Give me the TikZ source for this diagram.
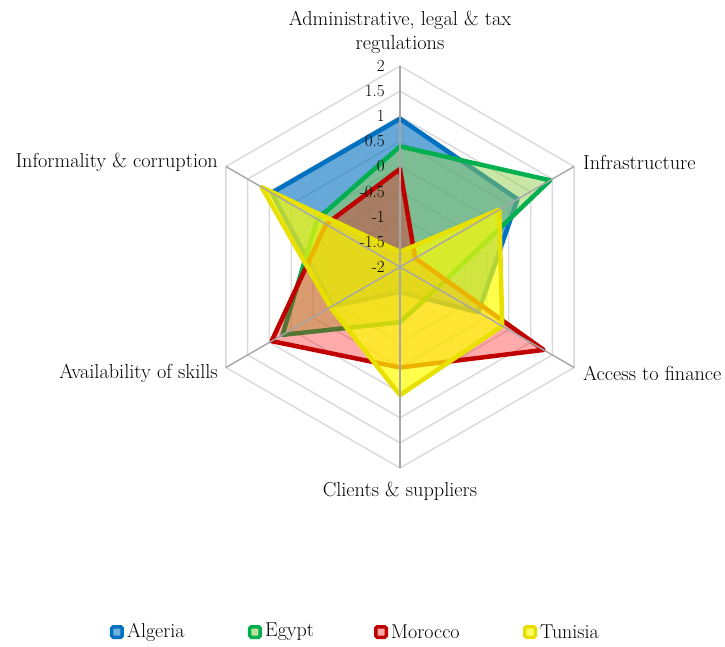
\documentclass[tikz,border=0pt]{standalone}
\usepackage{tikz}
\usetikzlibrary{positioning}
\definecolor{algeria}{HTML}{0070C0}
\definecolor{egypt}{HTML}{00B050}
\definecolor{egyptfill}{HTML}{92D050}
\definecolor{morocco}{HTML}{C00000}
\definecolor{moroccofill}{HTML}{FF0000}
\definecolor{tunisia}{HTML}{E8E000}
\definecolor{tunisiafill}{HTML}{FFFF00}
\definecolor{ringgray}{HTML}{D9D9D9}
\definecolor{spokegray}{HTML}{A6A6A6}

\newcommand{\radarpoints}[1]{%
  \foreach \v [count=\i] in {#1}
    \coordinate (p\i) at ({150-60*\i}:{(\v+2)*50.25});%
}

\begin{document}
\begin{tikzpicture}[x=1pt, y=1pt,
    ring/.style={draw=ringgray, line width=1.4pt},
    spoke/.style={draw=spokegray, line width=1.4pt},
    series/.style={line width=4.5pt, line join=round},
    tick/.style={anchor=east, inner sep=0pt, font=\fontsize{17}{17}\selectfont},
    cat/.style={inner sep=0pt, font=\fontsize{20.3}{24}\selectfont},
    legmark/.style={line width=3.5pt, minimum size=10.5pt, inner sep=0pt, rounded corners=1.5pt},
    legtext/.style={anchor=west, inner sep=0pt, font=\fontsize{20}{22}\selectfont}
  ]
  \useasboundingbox (-400,-379) rectangle (325,267);

  \foreach \r in {1,...,8}
    \draw[ring] (90:{\r*25.125}) -- (30:{\r*25.125}) -- (-30:{\r*25.125}) -- (-90:{\r*25.125})
      -- (-150:{\r*25.125}) -- (150:{\r*25.125}) -- cycle;

  \radarpoints{0.95,0.7,-0.2,-1.5,-0.45,0.95}
  \draw[series, draw=algeria, fill=algeria, fill opacity=0.6] (p1) -- (p2) -- (p3) -- (p4) -- (p5) -- (p6) -- cycle;
  \radarpoints{0.4,1.45,-1.15,-0.9,0.7,-0.1}
  \draw[series, draw=egypt, fill=egyptfill, fill opacity=0.5] (p1) -- (p2) -- (p3) -- (p4) -- (p5) -- (p6) -- cycle;
  \radarpoints{-0.05,-1.65,1.3,0,0.95,-0.3}
  \draw[series, draw=morocco, fill=moroccofill, fill opacity=0.33] (p1) -- (p2) -- (p3) -- (p4) -- (p5) -- (p6) -- cycle;
  \radarpoints{-1.7,0.28,0.35,0.55,-0.4,1.18}
  \draw[series, draw=tunisia, fill=tunisiafill, fill opacity=0.7] (p1) -- (p2) -- (p3) -- (p4) -- (p5) -- (p6) -- cycle;

  \foreach \a in {90,30,-30,-90,-150,150}
    \draw[spoke] (0,0) -- (\a:201);

  \foreach \t [count=\k] in {2,1.5,1,0.5,0,-0.5,-1,-1.5,-2}
    \node[tick] (tick\k) at (-15,{(\t+2)*50.25}) {\t};

  \node[cat, align=center] (admin) at (0,235) {Administrative, legal \& tax\\regulations};
  \node[cat, anchor=west] (infra) at (183,105) {Infrastructure};
  \node[cat, anchor=west] (finance) at (183,-106) {Access to finance};
  \node[cat] (clients) at (0,-224) {Clients \& suppliers};
  \node[cat, anchor=east] (skills) at (-182,-106) {Availability of skills};
  \node[cat, anchor=east] (informal) at (-182,105) {Informality \& corruption};

  \node[legmark, draw=algeria, fill=algeria!55] (m1) at (-283,-365) {};
  \node[legtext, right=3pt of m1] (l1) {Algeria};
  \node[legmark, draw=egypt, fill=egyptfill!60] (m2) at (-145,-365) {};
  \node[legtext, right=3pt of m2] (l2) {Egypt};
  \node[legmark, draw=morocco, fill=moroccofill!35] (m3) at (-19,-365) {};
  \node[legtext, right=3pt of m3] (l3) {Morocco};
  \node[legmark, draw=tunisia, fill=tunisiafill!60] (m4) at (130,-365) {};
  \node[legtext, right=3pt of m4] (l4) {Tunisia};
\end{tikzpicture}
\end{document}
